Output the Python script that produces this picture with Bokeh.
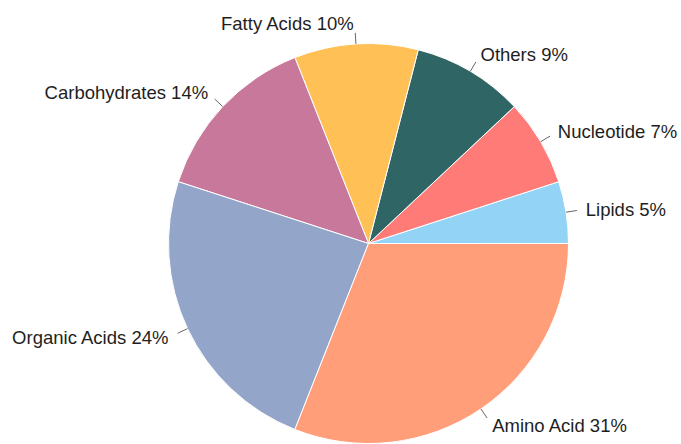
import math
from bokeh.plotting import figure
from bokeh.models import ColumnDataSource, Range1d
from bokeh.core.properties import value
from bokeh.embed import file_html
from bokeh.resources import INLINE

categories = ["Lipids", "Nucleotide", "Others", "Fatty Acids", "Carbohydrates", "Organic Acids", "Amino Acid"]
percents = [5, 7, 9, 10, 14, 24, 31]
colors = ["#93d4f6", "#ff7b78", "#2f6665", "#ffc156", "#c8799b", "#93a5c9", "#ff9e78"]

W, H = 681, 444
cx, cy, R = 368, 201, 200

total = sum(percents)
starts, ends, mids = [], [], []
acc = 0.0
for v in percents:
    a0 = acc / total * 2 * math.pi
    acc += v
    a1 = acc / total * 2 * math.pi
    starts.append(a0)
    ends.append(a1)
    mids.append((a0 + a1) / 2)

src = ColumnDataSource(dict(start=starts, end=ends, color=colors))

p = figure(width=W, height=H, output_backend="svg", toolbar_location=None,
           x_range=Range1d(0, W), y_range=Range1d(0, H), min_border=0)
p.axis.visible = False
p.grid.visible = False
p.outline_line_color = None

p.wedge(x=cx, y=cy, radius=R, start_angle="start", end_angle="end",
        fill_color="color", line_color="white", line_width=1, source=src)

x0 = [cx + R * math.cos(m) for m in mids]
y0 = [cy + R * math.sin(m) for m in mids]
x1 = [cx + (R + 11) * math.cos(m) for m in mids]
y1 = [cy + (R + 11) * math.sin(m) for m in mids]
p.segment(x0=x0, y0=y0, x1=x1, y1=y1, line_color="#666666", line_width=1)

lx = [cx + (R + 20) * math.cos(m) for m in mids]
ly = [cy + (R + 20) * math.sin(m) for m in mids]
labels = [f"{c} {v}%" for c, v in zip(categories, percents)]
align = ["left" if math.cos(m) >= 0 else "right" for m in mids]
lsrc = ColumnDataSource(dict(x=lx, y=ly, t=labels, a=align))
p.text(x="x", y="y", text="t", text_align="a", text_baseline="middle",
       text_font=value("Liberation Sans"), text_font_size="18.5px",
       text_color="#1e1e1e", source=lsrc)

open("out.html", "w").write(file_html(p, INLINE))
